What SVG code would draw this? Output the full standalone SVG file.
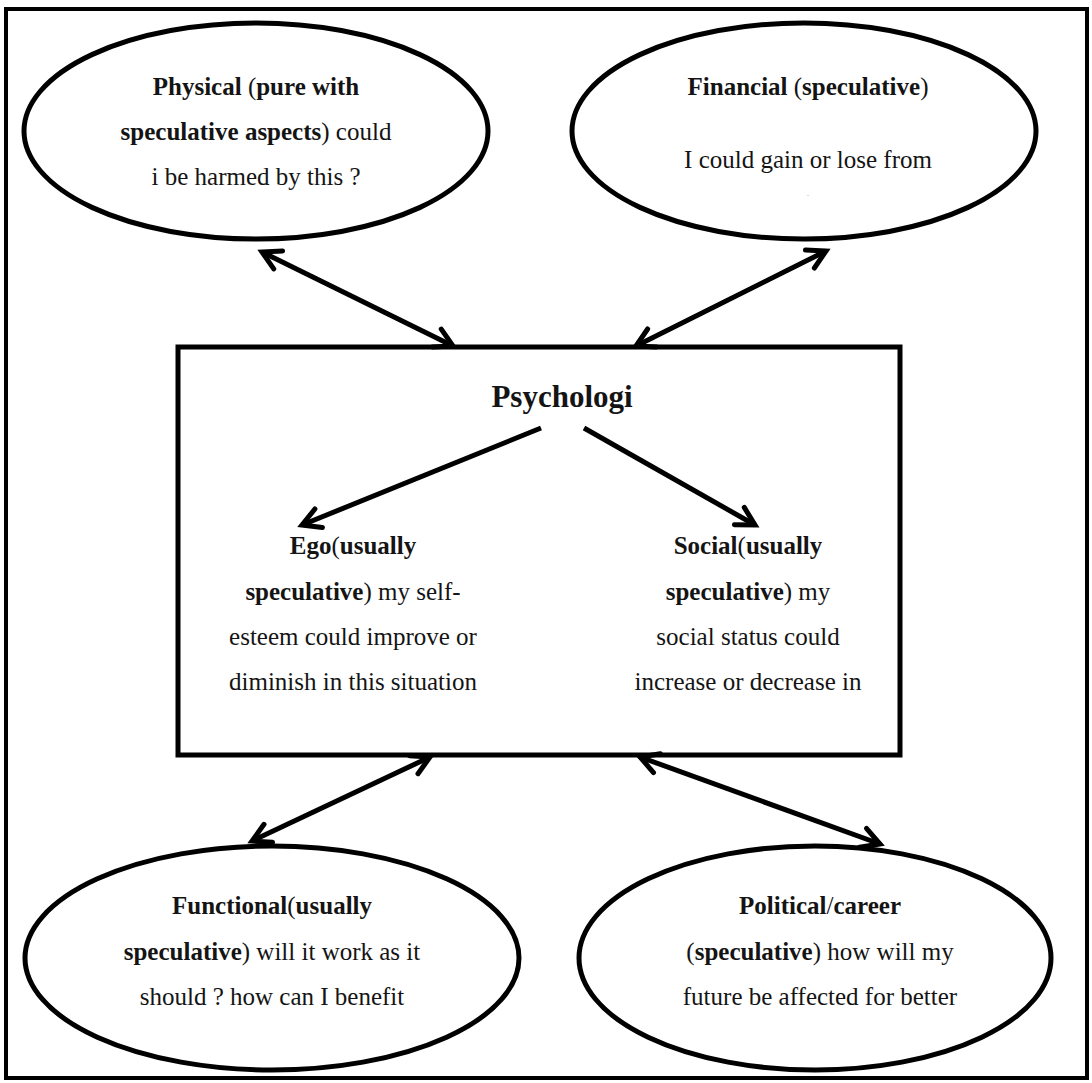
<svg xmlns="http://www.w3.org/2000/svg" width="1092" height="1083" viewBox="0 0 1092 1083">
  <style>
    .frame { fill: #ffffff; stroke: #000000; stroke-width: 4; }
    .node { fill: #ffffff; stroke: #000000; stroke-width: 5; }
    .box { fill: #ffffff; stroke: #000000; stroke-width: 5; }
    .link { fill: none; stroke: #000000; stroke-width: 5; }
    text { font-family: "Liberation Serif", "Times New Roman", serif; font-size: 25px; fill: #141414; text-anchor: middle; }
    .b { font-weight: bold; }
    .title { font-size: 31px; font-weight: bold; }
  </style>
  <defs>
    <marker id="head" markerUnits="userSpaceOnUse" markerWidth="40" markerHeight="40" viewBox="-30 -20 40 40" refX="0" refY="0" orient="auto-start-reverse">
      <path d="M -18 -10 L 0 0 L -18 10" fill="none" stroke="#000000" stroke-width="5" stroke-linecap="round" stroke-linejoin="miter"/>
    </marker>
  </defs>

  <!-- page frame -->
  <rect class="frame" x="6" y="9" width="1081" height="1069"/>

  <!-- central box -->
  <g id="psychological">
    <rect class="box" x="178" y="347" width="722" height="408"/>
    <text class="title" x="562" y="407">Psychologi</text>
  </g>

  <g id="ego">
    <text x="353" y="554"><tspan class="b">Ego</tspan>(<tspan class="b">usually</tspan></text>
    <text x="353" y="600"><tspan class="b">speculative</tspan>) my self-</text>
    <text x="353" y="645">esteem could improve or</text>
    <text x="353" y="690">diminish in this situation</text>
  </g>

  <g id="social">
    <text x="748" y="554"><tspan class="b">Social</tspan>(<tspan class="b">usually</tspan></text>
    <text x="748" y="600"><tspan class="b">speculative</tspan>) my</text>
    <text x="748" y="645">social status could</text>
    <text x="748" y="690">increase or decrease in</text>
  </g>

  <g id="physical">
    <ellipse class="node" cx="256" cy="131" rx="232" ry="108"/>
    <text x="256" y="95"><tspan class="b">Physical</tspan> (<tspan class="b">pure with</tspan></text>
    <text x="256" y="140"><tspan class="b">speculative aspects</tspan>) could</text>
    <text x="256" y="185">i be harmed by this ?</text>
  </g>

  <g id="financial">
    <ellipse class="node" cx="804" cy="131" rx="232" ry="108"/>
    <text x="808" y="95"><tspan class="b">Financial</tspan> (<tspan class="b">speculative</tspan>)</text>
    <text x="808" y="168">I could gain or lose from</text>
    <text x="808" y="197" style="font-size:6px;fill:#999999">-</text>
  </g>

  <g id="functional">
    <ellipse class="node" cx="272" cy="958" rx="247" ry="112"/>
    <text x="272" y="914"><tspan class="b">Functional</tspan>(<tspan class="b">usually</tspan></text>
    <text x="272" y="960"><tspan class="b">speculative</tspan>) will it work as it</text>
    <text x="272" y="1005">should ? how can I benefit</text>
  </g>

  <g id="political">
    <ellipse class="node" cx="815" cy="958" rx="236" ry="112"/>
    <text x="820" y="914"><tspan class="b">Political</tspan>/<tspan class="b">career</tspan></text>
    <text x="820" y="960">(<tspan class="b">speculative</tspan>) how will my</text>
    <text x="820" y="1005">future be affected for better</text>
  </g>

  <!-- connectors -->
  <g id="connectors">
    <line class="link" x1="262" y1="252" x2="453" y2="346" marker-start="url(#head)" marker-end="url(#head)"/>
    <line class="link" x1="826" y1="251" x2="636" y2="346" marker-start="url(#head)" marker-end="url(#head)"/>
    <line class="link" x1="541" y1="428" x2="302" y2="525" marker-end="url(#head)"/>
    <line class="link" x1="584" y1="428" x2="755" y2="525" marker-end="url(#head)"/>
    <line class="link" x1="430" y1="757" x2="252" y2="841" marker-start="url(#head)" marker-end="url(#head)"/>
    <line class="link" x1="640" y1="757" x2="880" y2="844" marker-start="url(#head)" marker-end="url(#head)"/>
  </g>
</svg>
